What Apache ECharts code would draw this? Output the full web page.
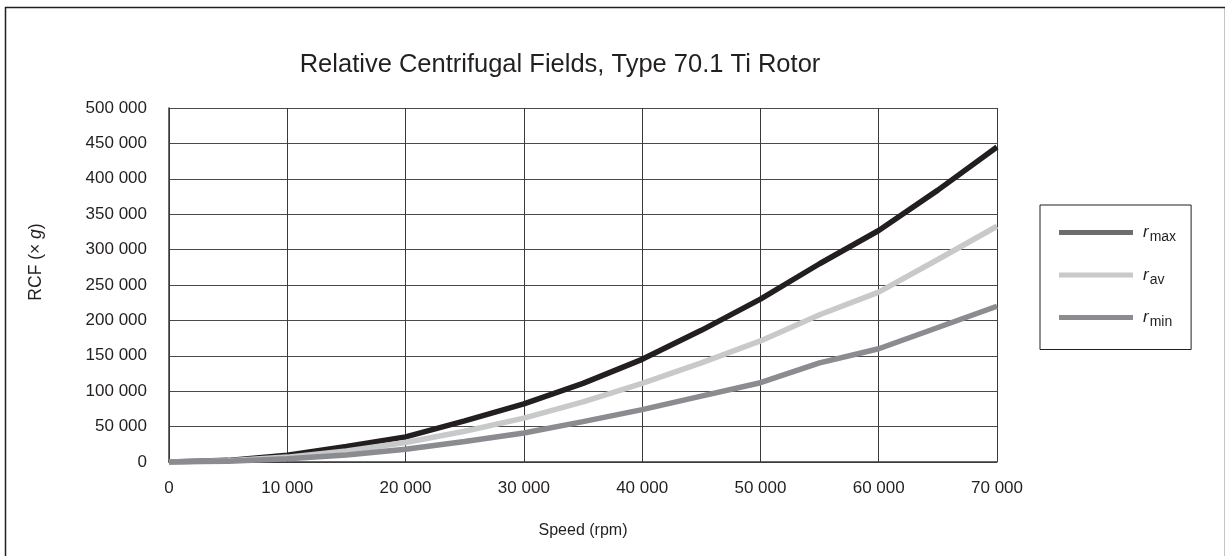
<!DOCTYPE html>
<html>
<head>
<meta charset="utf-8">
<script src="https://cdn.jsdelivr.net/npm/echarts@6/dist/echarts.min.js"></script>
<style>html,body{margin:0;padding:0;background:#fff}#c{width:1225px;height:556px}</style>
</head>
<body>
<div id="c"></div>
<script>
const speeds = [0, 5000, 10000, 15000, 20000, 25000, 30000, 35000, 40000, 45000, 50000, 55000, 60000, 65000, 70000];
const rmax = [0, 2300, 9500, 22000, 35500, 58000, 82000, 111000, 145000, 186000, 230000, 280000, 327000, 384000, 445000];
const rav  = [0, 1700, 6900, 15500, 27500, 43500, 62000, 85000, 111000, 140000, 171000, 208000, 240000, 286000, 333000];
const rmin = [0, 1100, 4500, 10000, 18000, 29000, 41000, 57000, 74000, 93000, 112000, 140000, 160000, 190000, 220000];
const seriesNames = ['rmax', 'rav', 'rmin'];
const seriesSubs = ['max', 'av', 'min'];

const FONT = '"Liberation Sans", Arial, sans-serif';
const TXT = '#231f20';
function fmt(v){ return String(v).replace(/\B(?=(\d{3})+(?!\d))/g, ' '); }
function pairs(ys){ return speeds.map((x,i)=>[x, ys[i]]); }

const chart = echarts.init(document.getElementById('c'), null, {renderer:'canvas'});
chart.setOption({
  backgroundColor: '#fff',
  animation: false,
  title: {
    text: 'Relative Centrifugal Fields, Type 70.1 Ti Rotor',
    left: 555, top: 47, textAlign: 'center',
    textStyle: {fontFamily: FONT, fontSize: 25.5, fontWeight: 'normal', color: TXT}
  },
  graphic: [{
    type: 'rect', left: 3, top: 5,
    shape: {x: 0, y: 0, width: 1220, height: 560},
    style: {fill: 'none', stroke: '#231f20', lineWidth: 1.5}, silent: true
  }],
  grid: {left: 169, right: 228, top: 108, bottom: 94, containLabel: false},
  legend: {
    orient: 'vertical', left: 1040, top: 205,
    borderColor: TXT, borderWidth: 1,
    padding: [19, 15, 20, 19],
    itemWidth: 74, itemHeight: 5, itemGap: 22,
    icon: 'rect',
    data: [
      {name: 'rmax', itemStyle: {color: '#6d6d6f'}},
      {name: 'rav', itemStyle: {color: '#c8c9cb'}},
      {name: 'rmin', itemStyle: {color: '#8b8c90'}}
    ],
    formatter: function(name){
      const i = seriesNames.indexOf(name);
      return '{sp|}{i|r}{s|' + seriesSubs[i] + '}';
    },
    textStyle: {
      fontFamily: FONT, color: TXT,
      rich: {
        sp: {width: 5},
        i: {fontFamily: FONT, fontSize: 17, fontStyle: 'italic', color: TXT},
        s: {fontFamily: FONT, fontSize: 14, color: TXT, padding: [10, 0, 0, 1]}
      }
    }
  },
  xAxis: {
    type: 'value', min: 0, max: 70000, interval: 10000,
    name: 'Speed (rpm)', nameLocation: 'middle', nameGap: 61,
    nameTextStyle: {fontFamily: FONT, fontSize: 16, color: TXT},
    axisLine: {show: true, lineStyle: {color: '#3a3a3a', width: 1.5}},
    axisTick: {show: false},
    axisLabel: {fontFamily: FONT, fontSize: 17, color: TXT, margin: 18, formatter: fmt},
    splitLine: {show: true, lineStyle: {color: '#3a3a3a', width: 1}}
  },
  yAxis: {
    type: 'value', min: 0, max: 500000, interval: 50000,
    name: 'RCF (× {g|g})', nameLocation: 'middle', nameGap: 124, nameRotate: 90,
    nameTextStyle: {fontFamily: FONT, fontSize: 17.5, color: TXT, padding: [0, 0, 0, 46],
      rich: {g: {fontFamily: FONT, fontSize: 17.5, fontStyle: 'italic', color: TXT}}},
    axisLine: {show: true, lineStyle: {color: '#3a3a3a', width: 1.5}},
    axisTick: {show: false},
    axisLabel: {fontFamily: FONT, fontSize: 17, color: TXT, margin: 22, formatter: fmt},
    splitLine: {show: true, lineStyle: {color: '#4a4a4a', width: 1}}
  },
  series: [
    {name: 'rmax', type: 'line', data: pairs(rmax), showSymbol: false, symbol: 'none',
     lineStyle: {color: '#231f20', width: 5.5}, itemStyle: {color: '#231f20'}, z: 3},
    {name: 'rav', type: 'line', data: pairs(rav), showSymbol: false, symbol: 'none',
     lineStyle: {color: '#c8c9cb', width: 5.5}, itemStyle: {color: '#c8c9cb'}, z: 4},
    {name: 'rmin', type: 'line', data: pairs(rmin), showSymbol: false, symbol: 'none',
     lineStyle: {color: '#8b8c90', width: 5.5}, itemStyle: {color: '#8b8c90'}, z: 5}
  ]
});
</script>
</body>
</html>
